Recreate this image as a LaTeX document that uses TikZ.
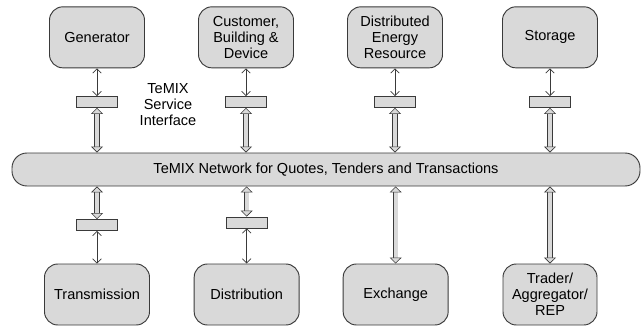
\documentclass[tikz,border=0pt]{standalone}
\usepackage{fontspec}
\setmainfont{Liberation Sans}
\usepackage{tikz}
\usetikzlibrary{arrows.meta}
\definecolor{boxgray}{HTML}{D9D9D9}
\definecolor{linegray}{HTML}{3A3A3A}

\begin{document}
\begin{tikzpicture}[
  font=\fontsize{12.4}{13.6}\selectfont,
  party/.style={draw=linegray,fill=boxgray,line width=0.8pt,rounded corners=0.4cm,
    align=center,inner sep=0pt},
  iface/.style={draw=linegray,fill=boxgray,line width=0.7pt,minimum width=1.23cm,
    minimum height=0.33cm,inner sep=0pt},
  thinarr/.style={draw=linegray,line width=0.6pt,
    {Straight Barb[length=1.3mm,width=2.6mm]}-{Straight Barb[length=1.3mm,width=2.6mm]}},
  fatarr/.style={draw=linegray,line width=0.5pt,double=boxgray,double distance=1.3mm,
    {Triangle[open,length=1.8mm,width=3.6mm,fill=boxgray]}-{Triangle[open,length=1.8mm,width=3.6mm,fill=boxgray]}}
]
\useasboundingbox (0,0) rectangle (19.32,9.78);
% parties on top
\node[party,minimum width=2.85cm,minimum height=1.83cm] (gen) at (2.91,8.66) {Generator};
\node[party,minimum width=2.85cm,minimum height=1.83cm] (cust) at (7.38,8.66) {Customer,\\Building \&\\Device};
\node[party,minimum width=2.85cm,minimum height=1.83cm] (der) at (11.85,8.66) {Distributed\\Energy\\Resource};
\node[party,minimum width=2.85cm,minimum height=1.83cm] (stor) at (16.5,8.66) {Storage};
% service interfaces
\node[iface] (sgen) at (2.91,6.72) {};
\node[iface] (scust) at (7.38,6.72) {};
\node[iface] (sder) at (11.85,6.72) {};
\node[iface] (sstor) at (16.5,6.72) {};
\node[align=center] (lbl) at (5.04,6.63) {TeMIX\\Service\\Interface};
% network
\node[party,rounded corners=0.45cm,minimum width=18.84cm,minimum height=0.99cm] (net) at (9.78,4.695)
  {TeMIX Network for Quotes, Tenders and Transactions};
% parties below
\node[iface] (strans) at (2.91,3.03) {};
\node[iface] (sdist) at (7.4,3.105) {};
\node[party,minimum width=3.15cm,minimum height=1.83cm] (trans) at (2.91,0.945) {Transmission};
\node[party,minimum width=3.15cm,minimum height=1.83cm] (dist) at (7.4,0.945) {Distribution};
\node[party,minimum width=3.15cm,minimum height=1.83cm] (exch) at (11.87,0.945) {Exchange};
\node[party,minimum width=2.82cm,minimum height=1.83cm] (trad) at (16.5,0.945) {Trader/\\Aggregator/\\REP};
% connectors
\draw[thinarr] (gen) -- (sgen);
\draw[thinarr] (cust) -- (scust);
\draw[thinarr] (der) -- (sder);
\draw[thinarr] (stor) -- (sstor);
\draw[fatarr] (sgen) -- (sgen |- net.north);
\draw[fatarr] (scust) -- (scust |- net.north);
\draw[fatarr] (sder) -- (sder |- net.north);
\draw[fatarr] (sstor) -- (sstor |- net.north);
\draw[fatarr] (strans |- net.south) -- (strans);
\draw[fatarr] (sdist |- net.south) -- (sdist);
\draw[fatarr] (exch |- net.south) -- (exch);
\draw[fatarr] (trad |- net.south) -- (trad);
\draw[thinarr] (strans) -- (trans);
\draw[thinarr] (sdist) -- (dist);
\end{tikzpicture}
\end{document}
